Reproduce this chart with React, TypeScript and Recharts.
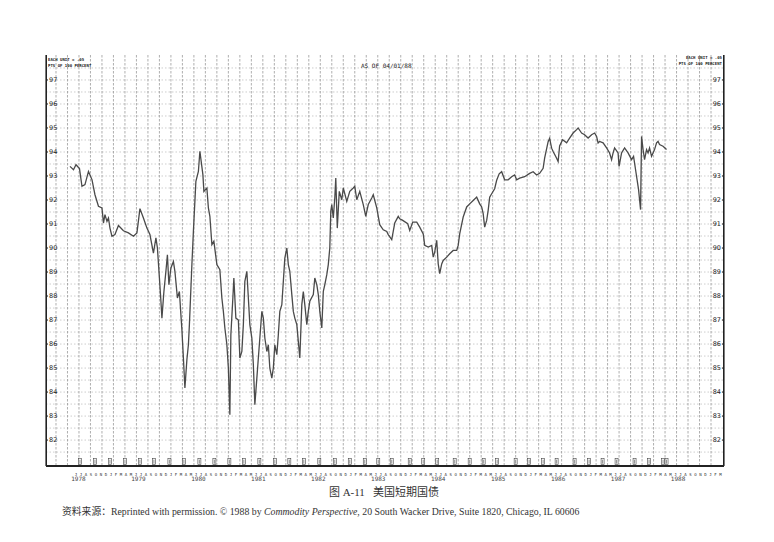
import { CartesianGrid, ComposedChart, Line, Scatter, XAxis, YAxis } from "recharts";

// Months counted from January 1978 (0 = Jan 1978).
const MONTHS = [
  4.3, 5.0, 5.5, 6.2, 6.7, 7.3, 8.0, 8.7, 9.3, 10.0, 10.7, 11.0, 11.3, 11.7, 12.0, 12.3, 12.7, 13.3, 14.0, 15.0,
  16.0, 17.0, 17.7, 18.3, 19.0, 19.7, 20.3, 21.0, 21.5, 21.8,
  22.2, 22.5, 22.7, 23.1, 23.5, 23.8, 24.1, 24.5, 25.0, 25.3, 25.8, 26.2, 26.5, 26.7, 27.0, 27.3, 27.7, 28.0, 28.2, 28.7,
  29.0, 29.5, 30.0, 30.3, 30.9, 31.1, 31.7, 32.0, 32.3, 32.7, 33.1, 33.7, 34.3, 34.7, 35.0, 35.3, 35.7, 36.0, 36.3, 36.5,
  36.9, 37.1, 37.5,
  38.0, 38.3, 38.7, 39.0, 39.3, 39.7, 40.0, 40.3, 40.7, 41.0, 41.3, 41.7, 42.0, 42.3, 42.7, 43.0, 43.3, 43.7, 44.0, 44.3,
  44.7, 45.0, 45.3, 45.7, 46.0, 46.3, 46.7, 47.0, 47.3, 47.7, 48.0, 48.3, 48.7, 49.0, 49.3, 49.7, 50.0, 50.3, 50.7, 51.0,
  51.3, 51.7, 52.0, 52.3, 53.0, 53.3, 53.7, 54.0, 54.3, 54.7, 55.0, 55.3, 55.7, 56.0, 56.3,
  56.5, 56.7, 57.0, 57.3, 57.5, 57.8, 58.2, 58.7, 59.0, 59.7, 60.3, 61.0, 61.3, 61.7, 62.3, 63.0, 63.5, 64.0, 64.7, 65.0,
  65.7, 66.3, 67.0, 67.7, 68.0, 68.7, 69.3, 70.0,
  70.3, 70.9, 71.9, 72.3, 72.9, 73.7, 74.3, 75.0, 75.3, 76.0, 76.7, 77.0, 77.3, 77.7, 78.0, 78.3, 78.7, 79.0, 79.7, 80.3,
  81.0, 81.7, 82.0, 82.3, 83.0, 83.7, 84.3, 85.0, 85.7, 86.3, 86.7, 87.0, 87.3, 87.7, 88.0, 88.3, 88.7, 89.3, 89.7, 90.2,
  90.7,
  91.3, 92.0, 92.7, 93.3, 93.7, 94.3, 95.3, 96.3, 97.0, 97.7, 98.3, 99.0, 99.3, 100.0, 100.3, 100.7, 101.0, 101.7, 102.0,
  102.3, 102.9, 103.7, 104.3, 105.0, 105.7, 106.0, 106.7, 107.3, 108.0, 108.7, 109.3, 109.7, 110.0, 110.3, 111.0, 111.7,
  112.3, 112.7, 113.0, 113.3, 114.0, 114.2, 114.7, 115.3, 116.0, 116.7, 117.1, 117.5, 117.8, 118.1, 118.3, 118.5, 118.7,
  119.0, 119.3, 119.7, 120.0, 120.3, 120.7, 121.0, 121.3, 121.7, 122.0, 122.3, 123.0, 123.7,
];

// Cash T-bill index (100 minus yield)
const PRICES = [
  93.4, 93.26, 93.47, 93.31, 92.57, 92.64, 93.19, 92.85, 92.22, 91.74, 91.67, 91.04, 91.39, 91.11, 91.25, 90.83, 90.49,
  90.56, 90.94, 90.72, 90.63, 90.49, 90.63, 91.64, 91.25, 90.83, 90.56, 89.79, 90.42, 90.0,
  88.75, 87.78, 87.08, 88.19, 89.03, 89.72, 88.47, 89.17, 89.44, 89.03, 87.92, 88.19, 87.22, 86.6, 85.42, 84.17, 85.35,
  85.97, 86.81, 89.31, 90.69, 92.78, 93.19, 94.03, 93.06, 92.36, 92.5, 91.67, 91.32, 90.14, 90.28, 89.31, 89.1, 87.92,
  87.36, 86.67, 85.97, 85.0, 83.06, 86.39, 87.92, 88.75, 87.08,
  87.0, 85.42, 85.69, 86.81, 88.61, 89.03, 87.92, 86.81, 86.25, 85.14, 83.47, 84.58, 85.42, 86.25, 87.36, 87.08, 86.25,
  85.69, 85.97, 85.0, 84.58, 85.0, 85.97, 85.56, 86.39, 87.36, 87.64, 88.61, 89.58, 90.0, 89.31, 89.03, 88.06, 87.36,
  87.08, 86.81, 86.11, 85.42, 87.64, 88.19, 87.64, 86.81, 87.36, 87.78, 88.06, 88.75, 88.47, 88.06, 87.36, 86.67, 88.19,
  88.47, 88.89, 89.31, 90.0,
  91.53, 91.81, 91.25, 92.08, 92.92, 90.83, 92.36, 92.01, 92.5, 91.94, 92.36, 92.5, 92.57, 92.01, 92.36, 91.81, 91.32,
  91.81, 92.08, 92.22, 91.67, 90.97, 90.76, 90.69, 90.56, 90.35, 91.04, 91.32,
  91.22, 91.15, 91.01, 90.73, 91.08, 91.08, 90.87, 90.59, 90.11, 90.04, 90.11, 89.62, 89.83, 90.32, 89.34, 88.93, 89.34,
  89.48, 89.62, 89.76, 89.9, 89.9, 90.11, 90.59, 91.29, 91.71, 91.84, 91.98, 92.12, 91.84, 91.71, 91.43, 90.87, 91.15,
  91.57, 92.12, 92.26, 92.47, 92.82, 93.09, 93.18,
  92.84, 92.84, 92.97, 93.04, 92.84, 92.91, 92.97, 93.11, 93.18, 93.04, 93.11, 93.32, 93.74, 94.43, 94.57, 94.16, 94.02,
  93.74, 93.6, 94.25, 94.51, 94.38, 94.58, 94.79, 94.93, 95.0, 94.79, 94.72, 94.58, 94.72, 94.79, 94.65, 94.38, 94.44,
  94.38, 94.17,
  93.96, 93.68, 93.96, 94.17, 93.96, 93.4, 93.96, 94.17, 93.96, 93.68, 93.82, 93.26, 92.85, 92.43, 92.01, 91.6, 94.65,
  94.1, 93.68, 94.1, 93.96, 94.17, 93.82, 93.96, 94.1, 94.38, 94.44, 94.31, 94.24, 94.1,
];

// quarterly contract boxes along the bottom of the grid
const MARKER_MONTHS = [
  6.3, 9.3, 12.3, 15.3, 18.3, 21.1, 24.2, 27.1, 30.2, 33.2, 36.2, 39.1, 42.2, 45.3, 48.2, 51.1, 54.2, 57.3, 60.3, 63.3,
  66.0, 68.7, 72.3, 75.0, 77.8, 81.3, 84.3, 87.1, 89.8, 93.5, 96.2, 99.0, 101.7, 105.3, 108.2, 110.9, 113.7, 117.3,
  120.2, 123.0, 123.7,
];

const YEAR_LABELS = ["1978", "1979", "1980", "1981", "1982", "1983", "1984", "1985", "1986", "1987", "1988"];
const PRICE_TICKS = [82, 83, 84, 85, 86, 87, 88, 89, 90, 91, 92, 93, 94, 95, 96, 97];
const MONTH_LETTERS = ["J", "F", "M", "A", "M", "J", "J", "A", "S", "O", "N", "D"];

const X_DOMAIN: [number, number] = [-0.5, 135.2];
const Y_DOMAIN: [number, number] = [80.92, 98.04];
const MARKER_LEVEL = 81.1;

const series = MONTHS.map((m, i) => ({ m, v: PRICES[i] }));
const markers = MARKER_MONTHS.map((m) => ({ m, v: MARKER_LEVEL }));
const yearTicks = YEAR_LABELS.map((_, i) => i * 12 + 6);
const monthTicks = Array.from({ length: 130 }, (_, i) => i + 5.5);
const gridX = Array.from({ length: 58 }, (_, i) => 1.5 + i * 2.3);
const gridY = Array.from({ length: 33 }, (_, i) => 81.5 + i * 0.5);

const INK = "#222";
const MONO = "'DejaVu Sans Mono', monospace";

function ContractBox(props: any) {
  const { cx, cy } = props;
  if (cx == null || cy == null) return null;
  return (
    <g>
      <rect x={cx - 1.5} y={cy - 3} width={3} height={6} fill="#fff" stroke="#444" strokeWidth={0.6} />
      <line x1={cx} x2={cx} y1={cy - 2} y2={cy + 2} stroke="#444" strokeWidth={0.6} />
    </g>
  );
}

export default function App() {
  const priceTick = { fontSize: 6.5, fill: INK, fontFamily: "'DejaVu Sans', sans-serif" };
  return (
    <div
      style={{
        position: "absolute",
        left: 0,
        top: 0,
        width: 774,
        height: 542,
        background: "#fff",
        overflow: "hidden",
      }}
    >
      <ComposedChart width={774} height={487} data={series} margin={{ top: 55, right: 50, bottom: 0, left: 46 }}>
        <CartesianGrid
          xAxisId="m"
          yAxisId="l"
          vertical={false}
          horizontalValues={gridY}
          stroke="#b8b8b8"
          strokeDasharray="1.5 2"
          strokeWidth={0.7}
        />
        <CartesianGrid
          xAxisId="m"
          yAxisId="l"
          horizontal={false}
          verticalValues={gridX}
          stroke="#8c8c8c"
          strokeDasharray="2.5 1.5"
          strokeWidth={0.7}
        />
        <XAxis
          xAxisId="top"
          orientation="top"
          type="number"
          dataKey="m"
          domain={X_DOMAIN}
          allowDataOverflow
          height={0}
          tick={false}
          tickLine={false}
          axisLine={{ stroke: INK, strokeWidth: 2 }}
        />
        <XAxis
          xAxisId="m"
          type="number"
          dataKey="m"
          domain={X_DOMAIN}
          allowDataOverflow
          ticks={monthTicks}
          interval={0}
          tickFormatter={(m: number) => MONTH_LETTERS[Math.floor(m) % 12]}
          height={5}
          tickLine={false}
          tickMargin={1}
          axisLine={{ stroke: INK, strokeWidth: 2 }}
          tick={{ fontSize: 4, fill: "#333", fontFamily: MONO }}
        />
        <XAxis
          xAxisId="y"
          type="number"
          dataKey="m"
          domain={X_DOMAIN}
          allowDataOverflow
          ticks={yearTicks}
          interval={0}
          tickFormatter={(m: number) => YEAR_LABELS[Math.round((m - 6) / 12)]}
          height={16}
          tickLine={false}
          axisLine={false}
          tickMargin={0}
          tick={{ fontSize: 6, fill: "#444", fontFamily: MONO }}
        />
        <YAxis
          yAxisId="l"
          orientation="left"
          mirror
          type="number"
          domain={Y_DOMAIN}
          allowDataOverflow
          ticks={PRICE_TICKS}
          interval={0}
          tickSize={2}
          tickMargin={1}
          axisLine={{ stroke: INK, strokeWidth: 1.2 }}
          tickLine={{ stroke: INK }}
          tick={priceTick}
        />
        <YAxis
          yAxisId="r"
          orientation="right"
          mirror
          type="number"
          domain={Y_DOMAIN}
          allowDataOverflow
          ticks={PRICE_TICKS}
          interval={0}
          tickSize={2}
          tickMargin={1}
          axisLine={{ stroke: INK, strokeWidth: 1.2 }}
          tickLine={{ stroke: INK }}
          tick={priceTick}
        />
        <Line
          xAxisId="m"
          yAxisId="l"
          type="linear"
          dataKey="v"
          stroke="#4a4a4a"
          strokeWidth={1.3}
          dot={false}
          isAnimationActive={false}
        />
        <Scatter
          xAxisId="m"
          yAxisId="l"
          data={markers}
          dataKey="v"
          shape={ContractBox}
          isAnimationActive={false}
        />
      </ComposedChart>

      {/* side edges of the chart frame */}
      <div
        style={{
          position: "absolute",
          left: 46,
          top: 55,
          width: 676,
          height: 411,
          borderLeft: `1px solid ${INK}`,
          borderRight: `1px solid ${INK}`,
          pointerEvents: "none",
        }}
      />

      <div style={{ position: "absolute", left: 48, top: 57, font: `bold 4px/6px ${MONO}`, color: INK }}>
        EACH UNIT = .05
        <br />
        PTS OF 100 PERCENT
      </div>
      <div
        style={{
          position: "absolute",
          left: 660,
          width: 62,
          top: 55,
          textAlign: "right",
          font: `bold 4px/6px ${MONO}`,
          color: INK,
        }}
      >
        EACH UNIT = .05
        <br />
        PTS OF 100 PERCENT
      </div>
      <div style={{ position: "absolute", left: 361, top: 62, font: `6px/8px ${MONO}`, color: INK }}>
        AS OF 04/01/88
      </div>

      <div
        style={{
          position: "absolute",
          left: 0,
          width: 768,
          top: 485,
          textAlign: "center",
          font: "11px/14px 'Liberation Serif', 'Noto Sans CJK SC', serif",
          color: "#333",
          whiteSpace: "pre",
        }}
      >
        {"图 A-11   美国短期国债"}
      </div>
      <div
        style={{
          position: "absolute",
          left: 62,
          top: 506,
          font: "9.8px/12px 'Liberation Serif', 'Noto Sans CJK SC', serif",
          color: "#333",
          whiteSpace: "nowrap",
        }}
      >
        资料来源：Reprinted with permission. © 1988 by <i>Commodity Perspective</i>, 20 South Wacker Drive, Suite 1820,
        Chicago, IL 60606
      </div>
    </div>
  );
}
